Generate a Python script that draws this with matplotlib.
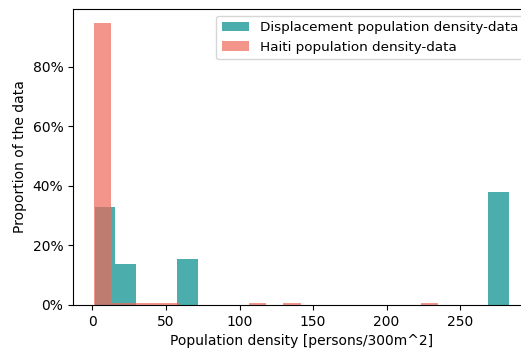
import numpy as np
import matplotlib
matplotlib.use("Agg")
import matplotlib.pyplot as plt
from matplotlib.ticker import PercentFormatter

# Displacement population density histogram (20 bins)
disp_range = (1.4, 283.4)
disp_props = [0.330, 0.138, 0, 0, 0.155, 0, 0, 0, 0, 0,
              0, 0, 0, 0, 0, 0, 0, 0, 0, 0.379]

# Haiti population density histogram (20 bins)
haiti_range = (0.9, 235.2)
haiti_props = [0.947, 0.008, 0.008, 0.008, 0.008, 0, 0, 0, 0, 0.008,
               0, 0.008, 0, 0, 0, 0, 0, 0, 0, 0.008]

labels = ["Displacement population density-data", "Haiti population density-data"]
xlabel = "Population density [persons/300m^2]"
ylabel = "Proportion of the data"

W, H = 521, 349
fig = plt.figure(figsize=(W / 100, H / 100), dpi=100)
ax_l, ax_r, ax_t, ax_b = 73, 530, 9, 305
ax = fig.add_axes([ax_l / W, 1 - ax_b / H, (ax_r - ax_l) / W, (ax_b - ax_t) / H])

n = len(disp_props)
d_edges = np.linspace(disp_range[0], disp_range[1], n + 1)
d_centers = (d_edges[:-1] + d_edges[1:]) / 2
ax.hist(d_centers, bins=d_edges, weights=disp_props, color="darkcyan", alpha=0.7,
        label=labels[0])

m = len(haiti_props)
h_edges = np.linspace(haiti_range[0], haiti_range[1], m + 1)
h_centers = (h_edges[:-1] + h_edges[1:]) / 2
ax.hist(h_centers, bins=h_edges, weights=haiti_props, color="#ef6858", alpha=0.7,
        label=labels[1])

ax.yaxis.set_major_formatter(PercentFormatter(1, decimals=0))
ax.set_yticks([0, 0.2, 0.4, 0.6, 0.8])
ax.set_xticks([0, 50, 100, 150, 200, 250])
ax.set_xlabel(xlabel, fontsize=10)
ax.set_ylabel(ylabel, fontsize=10)
ax.tick_params(labelsize=10)
ax.legend(loc="upper right", fontsize=9.7)

fig.savefig("out.png", dpi=100)
